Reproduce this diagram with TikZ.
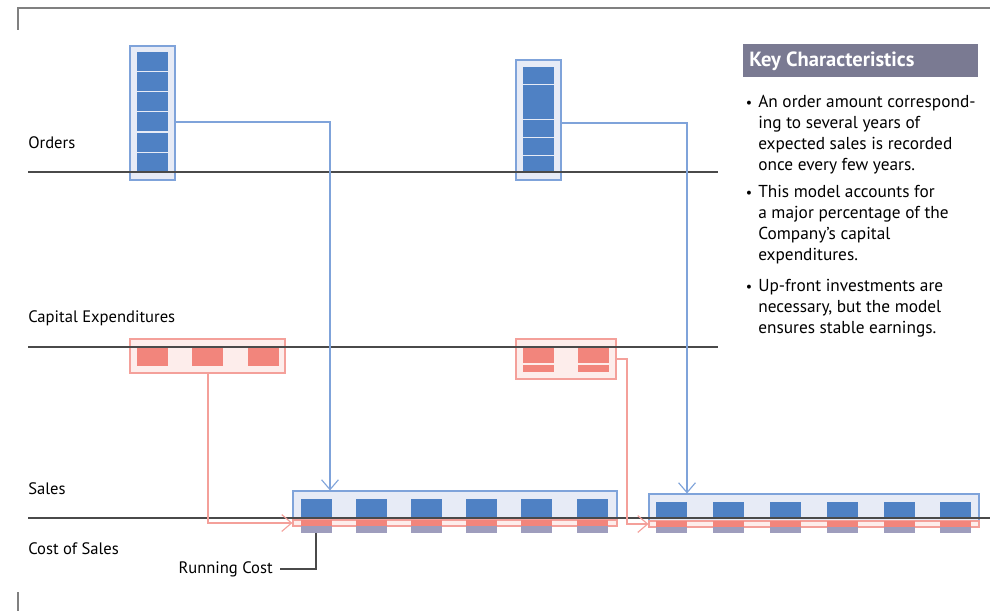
\documentclass[tikz,border=0pt]{standalone}
\usepackage{fontspec}
\setmainfont{PT Sans}
\usetikzlibrary{arrows.meta,fit}
\definecolor{ordblue}{HTML}{4F81C4}
\definecolor{paleblue}{HTML}{E7EBF6}
\definecolor{boxblue}{HTML}{7FA3DA}
\definecolor{capred}{HTML}{F2857C}
\definecolor{palered}{HTML}{FDEDEB}
\definecolor{boxred}{HTML}{F4A09A}
\definecolor{costgray}{HTML}{9E9DBD}
\definecolor{axisgray}{HTML}{4A4A4A}
\definecolor{headgray}{HTML}{7A7A92}
\tikzset{
  axis/.style={draw=axisgray, line width=0.8pt},
  ordbox/.style={draw=boxblue, fill=paleblue, line width=0.8pt, inner sep=0pt},
  capbox/.style={draw=boxred, fill=palered, line width=0.8pt, inner sep=0pt},
  ordline/.style={draw=boxblue, line width=0.8pt, -{Straight Barb[length=7pt,width=12pt]}},
  capline/.style={draw=boxred, line width=0.8pt, -{Straight Barb[length=7pt,width=12pt]}},
  lbl/.style={anchor=west, inner sep=0pt, font=\fontsize{11.8}{13}\selectfont},
  keytext/.style={anchor=north west, inner sep=0pt, align=left, font=\fontsize{12.3}{15}\selectfont},
}
\begin{document}
\begin{tikzpicture}[x=0.025cm,y=-0.025cm]
  \useasboundingbox (0,0) rectangle (990,611);
  % frame corners
  \draw[gray, line width=0.8pt] (18,30) -- (18,8) -- (990,8);
  \draw[gray, line width=0.8pt] (18,592) -- (18,611);

  % orders
  \node[ordbox, fit={(130,46) (175,180)}] (ord1) {};
  \foreach \y in {52,72,92,112,133,153}
    \fill[ordblue] (137,\y) rectangle (168,\y+19);
  \node[ordbox, fit={(516,60) (561,180)}] (ord2) {};
  \foreach \a/\b in {67/84,85/119,120/137,138/155,156/172}
    \fill[ordblue] (523,\a) rectangle (554,\b);

  % capital expenditures
  \node[capbox, fit={(130,339) (285,373)}] (cap1) {};
  \foreach \x in {137,192,248}
    \fill[capred] (\x,347) rectangle (\x+31,366);
  \node[capbox, fit={(516,339) (616,379)}] (cap2) {};
  \foreach \x in {523,578} {
    \fill[capred] (\x,347) rectangle (\x+31,363);
    \fill[capred] (\x,364.5) rectangle (\x+31,372);
  }

  % sales and cost of sales
  \node[ordbox, fit={(293,491) (617,520)}] (sal1) {};
  \node[capbox, fit={(293,520) (617,526)}] (cost1) {};
  \foreach \x in {301,356,411,466,521,577} {
    \fill[ordblue] (\x,499) rectangle (\x+31,518);
    \fill[capred] (\x,520) rectangle (\x+31,526);
    \fill[costgray] (\x,526) rectangle (\x+31,533);
  }
  \node[ordbox, fit={(649,494) (979,521)}] (sal2) {};
  \node[capbox, fit={(649,521) (979,527)}] (cost2) {};
  \foreach \x in {656,713,770,827,884,940} {
    \fill[ordblue] (\x,502) rectangle (\x+31,518);
    \fill[capred] (\x,521) rectangle (\x+31,527);
    \fill[costgray] (\x,527) rectangle (\x+31,533);
  }

  % time lines
  \draw[axis] (28,172) -- (718,172);
  \draw[axis] (28,347) -- (718,347);
  \draw[axis] (28,518) -- (990,518);

  % labels
  \draw (28,143) node[lbl] (orders) {Orders};
  \draw (28,318) node[lbl] (capex) {Capital Expenditures};
  \draw (28,489) node[lbl] (sales) {Sales};
  \draw (28,549) node[lbl] (costs) {Cost of Sales};
  \draw (273,569) node[lbl, anchor=east] (run) {Running Cost};

  % connectors
  \coordinate (bend2) at (627,359);
  \coordinate (rc) at (316,533);
  \draw[ordline] (ord1.east |- 0,122) -| (sal1.north -| 330,0);
  \draw[ordline] (ord2.east |- 0,123) -| (sal2.north -| 687,0);
  \draw[capline] (cap1.south -| 208,0) |- (cost1.west);
  \draw[capline] (cap2.east |- bend2) -- (bend2) |- (cost2.west);
  \draw[axisgray, line width=0.8pt] ([xshift=5pt]run.east) -| (rc);

  % key characteristics
  \node[fill=headgray, inner sep=0pt, fit={(743,44) (978,77)}] (keyhead) {};
  \draw (749,61) node[anchor=west, inner sep=0pt, text=white,
    font=\fontsize{14.6}{16}\selectfont\bfseries] (keytitle) {Key Characteristics};
  \draw (749,104) node[inner sep=0pt] (bul1) {\textbullet};
  \draw (749,194) node[inner sep=0pt] (bul2) {\textbullet};
  \draw (749,288) node[inner sep=0pt] (bul3) {\textbullet};
  \draw (758,95) node[keytext] (key1) {An order amount correspond-\\ing to several years of\\expected sales is recorded\\once every few years.};
  \draw (758,185) node[keytext] (key2) {This model accounts for\\a major percentage of the\\Company’s capital\\expenditures.};
  \draw (758,279) node[keytext] (key3) {Up-front investments are\\necessary, but the model\\ensures stable earnings.};
\end{tikzpicture}
\end{document}
